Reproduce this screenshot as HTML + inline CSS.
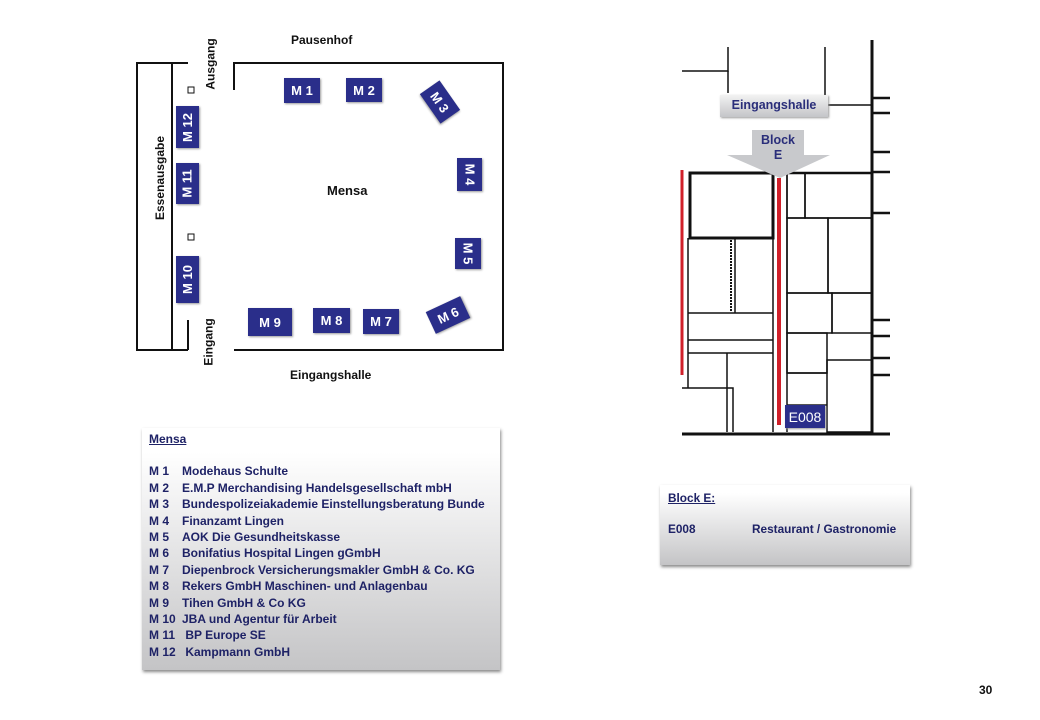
<!DOCTYPE html>
<html><head><meta charset="utf-8"><style>
body{margin:0;width:1040px;height:720px;background:#fff;position:relative;overflow:hidden;font-family:"Liberation Sans",sans-serif;font-weight:bold}
.a{position:absolute}
.b{position:absolute;background:#2a2e8a;color:#fff;font-size:13px;display:flex;align-items:center;justify-content:center;box-shadow:1px 1px 2px #999;white-space:nowrap}
.l{position:absolute;font-size:12px;color:#111;white-space:nowrap}
.leg div{height:16.4px;white-space:nowrap}
.leg span{display:inline-block;width:33px}
</style></head><body>
<svg class="a" style="left:0;top:0" width="1040" height="720">
<g stroke="#111" stroke-width="2" fill="none">
<polyline points="188,63 137,63 137,350 188,350"/>
<line x1="172" y1="63" x2="172" y2="350"/>
<line x1="188" y1="320" x2="188" y2="350"/>
<polyline points="234,90 234,63 503,63 503,350 234,350"/>
<rect x="188" y="87" width="6" height="6" stroke-width="1"/>
<rect x="188" y="234" width="6" height="6" stroke-width="1"/>
</g>
<g stroke="#111" stroke-width="1.5" fill="none">
<polyline points="682,71 728,71 728,47"/><line x1="728" y1="71" x2="728" y2="93"/>
<polyline points="825,47 825,105 872,105"/>
<line x1="872" y1="40" x2="872" y2="435" stroke-width="3"/>
<line x1="682" y1="434" x2="890" y2="434" stroke-width="3"/>
<g stroke-width="2.5"><line x1="872" y1="98" x2="890" y2="98"/><line x1="872" y1="113" x2="890" y2="113"/><line x1="872" y1="152" x2="890" y2="152"/><line x1="872" y1="172" x2="890" y2="172"/><line x1="872" y1="213" x2="890" y2="213"/><line x1="872" y1="320" x2="890" y2="320"/><line x1="872" y1="336" x2="890" y2="336"/><line x1="872" y1="358" x2="890" y2="358"/><line x1="872" y1="375" x2="890" y2="375"/></g>
<rect x="690" y="173" width="83" height="65" stroke-width="3"/>
<line x1="787" y1="173" x2="872" y2="173" stroke-width="2.5"/>
<line x1="787" y1="173" x2="787" y2="432"/>
<rect x="787" y="173" width="18" height="45"/><rect x="805" y="173" width="67" height="45"/>
<rect x="787" y="218" width="41" height="75"/><rect x="828" y="218" width="44" height="75"/>
<rect x="787" y="293" width="45" height="40"/><rect x="832" y="293" width="40" height="40"/>
<rect x="787" y="333" width="40" height="40"/><rect x="827" y="360" width="45" height="72"/>
<line x1="787" y1="373" x2="827" y2="373"/><line x1="787" y1="405" x2="827" y2="405"/>
<line x1="688" y1="238" x2="688" y2="388"/><line x1="773" y1="238" x2="773" y2="432"/>
<line x1="735" y1="238" x2="735" y2="313"/>
<line x1="688" y1="313" x2="773" y2="313"/><line x1="688" y1="340" x2="773" y2="340"/><line x1="688" y1="353" x2="773" y2="353"/>
<line x1="727" y1="353" x2="727" y2="432"/><polyline points="682,388 733,388 733,432"/>
<line x1="731" y1="240" x2="731" y2="312" stroke-dasharray="2,1" stroke-width="2"/>
</g>
<line x1="682" y1="170" x2="682" y2="375" stroke="#d0202a" stroke-width="3"/>
<line x1="779" y1="178" x2="779" y2="425" stroke="#d0202a" stroke-width="4"/>
<polygon points="727,155 830,155 780,178" fill="#c8c9cc"/>
<rect x="752" y="130" width="52" height="26" fill="#c8c9cc"/>
</svg>
<div class="l" style="left:291px;top:33px">Pausenhof</div>
<div class="l" style="left:327px;top:183px;font-size:13px">Mensa</div>
<div class="l" style="left:290px;top:368px">Eingangshalle</div>
<div class="l" style="left:185px;top:57px;transform:rotate(-90deg)">Ausgang</div>
<div class="l" style="left:185px;top:335px;transform:rotate(-90deg)">Eingang</div>
<div class="l" style="left:118px;top:171px;transform:rotate(-90deg)">Essenausgabe</div>
<div class="b" style="left:284px;top:78px;width:36px;height:25px">M 1</div>
<div class="b" style="left:346px;top:78px;width:36px;height:24px">M 2</div>
<div class="b" style="left:422px;top:90px;width:36px;height:24px;transform:rotate(55deg)">M 3</div>
<div class="b" style="left:457px;top:158px;width:25px;height:33px"><span style="transform:rotate(90deg)">M 4</span></div>
<div class="b" style="left:455px;top:238px;width:26px;height:31px"><span style="transform:rotate(90deg)">M 5</span></div>
<div class="b" style="left:429px;top:303px;width:38px;height:24px;transform:rotate(-25deg)">M 6</div>
<div class="b" style="left:363px;top:309px;width:36px;height:25px">M 7</div>
<div class="b" style="left:313px;top:308px;width:37px;height:25px">M 8</div>
<div class="b" style="left:248px;top:308px;width:44px;height:28px">M 9</div>
<div class="b" style="left:176px;top:256px;width:23px;height:47px"><span style="transform:rotate(-90deg)">M 10</span></div>
<div class="b" style="left:176px;top:163px;width:23px;height:41px"><span style="transform:rotate(-90deg)">M 11</span></div>
<div class="b" style="left:176px;top:106px;width:23px;height:42px"><span style="transform:rotate(-90deg)">M 12</span></div>
<div class="a" style="left:720px;top:95px;width:108px;height:22px;background:linear-gradient(#f2f2f2,#c4c5c8);color:#2a2e7a;font-size:12.5px;text-align:center;line-height:20px;box-shadow:1px 1px 2px #999">Eingangshalle</div>
<div class="a" style="left:752px;top:133px;width:52px;color:#2a2e7a;font-size:12.5px;text-align:center;line-height:15px">Block<br>E</div>
<div class="b" style="left:785px;top:405px;width:40px;height:23px;font-weight:normal;font-size:14px">E008</div>
<div class="a leg" style="left:142px;top:428px;width:358px;height:242px;background:linear-gradient(#fff 10%,#c4c4c6);box-shadow:1px 2px 3px #888;color:#1e2266;font-size:12px;box-sizing:border-box;padding:4px 0 0 7px">
<div style="text-decoration:underline;margin-bottom:16px">Mensa</div>
<div><span>M 1</span>Modehaus Schulte</div>
<div><span>M 2</span>E.M.P Merchandising Handelsgesellschaft mbH</div>
<div><span>M 3</span>Bundespolizeiakademie Einstellungsberatung Bunde</div>
<div><span>M 4</span>Finanzamt Lingen</div>
<div><span>M 5</span>AOK Die Gesundheitskasse</div>
<div><span>M 6</span>Bonifatius Hospital Lingen gGmbH</div>
<div><span>M 7</span>Diepenbrock Versicherungsmakler GmbH &amp; Co. KG</div>
<div><span>M 8</span>Rekers GmbH Maschinen- und Anlagenbau</div>
<div><span>M 9</span>Tihen GmbH &amp; Co KG</div>
<div><span>M 10</span>JBA und Agentur für Arbeit</div>
<div><span>M 11</span>&nbsp;BP Europe SE</div>
<div><span>M 12</span>&nbsp;Kampmann GmbH</div>
</div>
<div class="a" style="left:660px;top:485px;width:250px;height:80px;background:linear-gradient(#fff 10%,#c4c4c6);box-shadow:1px 2px 3px #888;color:#1e2266;font-size:11.8px;box-sizing:border-box;padding:6px 0 0 8px">
<div style="text-decoration:underline">Block E:</div>
<div style="margin-top:17px">E008<span style="position:absolute;left:92px">Restaurant / Gastronomie</span></div>
</div>
<div class="l" style="left:979px;top:683px">30</div>
</body></html>
